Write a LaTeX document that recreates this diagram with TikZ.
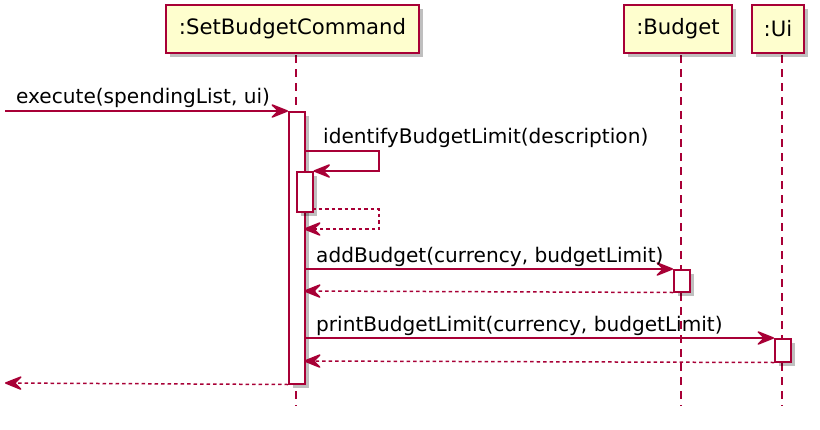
\documentclass[tikz,border=0pt]{standalone}
\usepackage{fontspec}
\setmainfont{DejaVu Sans}
\usetikzlibrary{arrows.meta,shadows}
\definecolor{pborder}{HTML}{A80036}
\definecolor{pfill}{HTML}{FEFECE}
\tikzset{
  shadowed/.style={drop shadow={shadow xshift=4pt,shadow yshift=-4pt,opacity=0.25,fill=black}},
  part/.style={draw=pborder, fill=pfill, line width=1.8pt, shadowed, inner sep=0pt,
    font=\fontsize{21.2}{25}\selectfont},
  lifeline/.style={draw=pborder, line width=1.2pt, dash pattern=on 8pt off 6pt},
  actbar/.style={draw=pborder, fill=white, line width=1.5pt, shadowed, inner sep=0pt, minimum width=16pt, anchor=north west},
  msg/.style={draw=pborder, line width=1.5pt, ->, >={Stealth[length=20pt,width=16pt,inset=8pt,round=false]}},
  ret/.style={msg, dash pattern=on 3.5pt off 3pt},
  lbl/.style={anchor=base west, inner sep=0pt, font=\fontsize{20.1}{24}\selectfont}
}
\begin{document}
\begin{tikzpicture}[x=1pt,y=-1pt]
\useasboundingbox (0,0) rectangle (820,429);

% lifelines
\coordinate (l1t) at (296,55); \coordinate (l1b) at (296,406);
\coordinate (l2t) at (681,55); \coordinate (l2b) at (681,406);
\coordinate (l3t) at (782,55); \coordinate (l3b) at (782,406);
\draw[lifeline] (l1t) -- (l1b);
\draw[lifeline] (l2t) -- (l2b);
\draw[lifeline] (l3t) -- (l3b);

% participants
\node[part, minimum width=253pt, minimum height=48pt] (cmd) at (292.5,29) {:SetBudgetCommand};
\node[part, minimum width=108pt, minimum height=48pt] (budget) at (678,29) {:Budget};
\node[part, minimum width=52pt, minimum height=48pt] (ui) at (778,29) {:Ui};

% activations
\node[actbar, minimum height=272pt] (a1) at (288,111) {};
\node[actbar, minimum height=40pt] (a2) at (296,171) {};
\node[actbar, minimum height=22pt] (a3) at (673,269) {};
\node[actbar, minimum height=23pt] (a4) at (774,338) {};

% messages
\coordinate (src) at (5,111);
\draw[msg] (src) -- (a1.north west);
\node[lbl] (t1) at (16,103) {execute(spendingList, ui)};

\coordinate (s1) at (304,151);
\coordinate (s2) at (379,151);
\coordinate (s3) at (379,171);
\draw[msg] (s1) -- (s2) -- (s3) -- (a2.north east);
\node[lbl] (t2) at (323,143) {identifyBudgetLimit(description)};

\coordinate (r1) at (312,209);
\coordinate (r2) at (379,209);
\coordinate (r3) at (379,229);
\coordinate (r4) at (304,229);
\draw[ret] (r1) -- (r2) -- (r3) -- (r4);

\coordinate (b1) at (304,269);
\draw[msg] (b1) -- (a3.north west);
\node[lbl] (t3) at (316,262) {addBudget(currency, budgetLimit)};
\coordinate (b2) at (304,291);
\draw[ret] (a3.south west) -- (b2);

\coordinate (p1) at (304,338);
\draw[msg] (p1) -- (a4.north west);
\node[lbl] (t4) at (316,331) {printBudgetLimit(currency, budgetLimit)};
\coordinate (p2) at (304,361);
\draw[ret] (a4.south west) -- (p2);

\coordinate (dst) at (5,383);
\draw[ret] (a1.south west) -- (dst);
\end{tikzpicture}
\end{document}
